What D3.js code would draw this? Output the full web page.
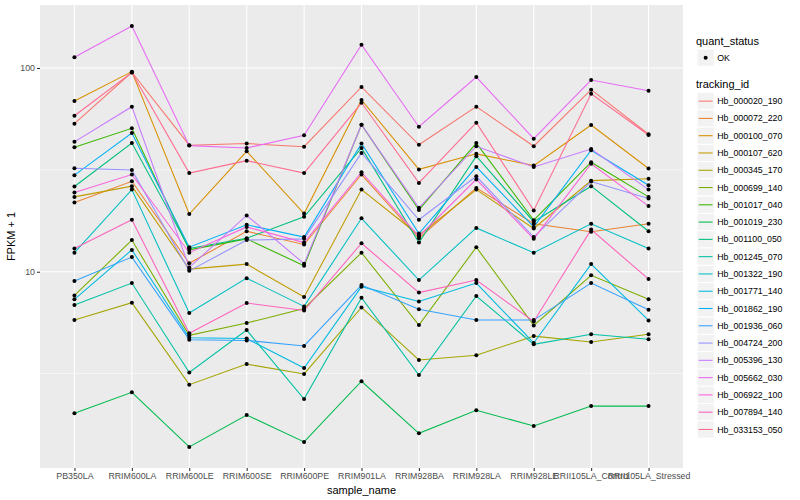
<!DOCTYPE html>
<html lang="en">
  <head>
    <meta charset="UTF-8" />
    <title>FPKM by sample</title>
    <script src="https://d3js.org/d3.v7.min.js"></script>
  </head>
  <style>
    html,
    body {
      margin: 0;
      padding: 0;
      background: #fff;
    }
    svg text {
      font-family: "Liberation Sans", Arial, Helvetica, sans-serif;
    }
  </style>
  <body>
    <script>
      // samples on the x axis
      var samples = [
        "PB350LA", "RRIM600LA", "RRIM600LE", "RRIM600SE", "RRIM600PE", "RRIM901LA",
        "RRIM928BA", "RRIM928LA", "RRIM928LE", "RRII105LA_Control", "RRII105LA_Stressed"
      ];

      // FPKM + 1, one array per tracking id
      var hb_000020_190 = [53.3, 95.3, 41.8, 42.6, 41.1, 80.7, 42.0, 64.6, 41.3, 78.3, 47.3];
      var hb_000072_220 = [21.9, 27.8, 11.0, 15.8, 13.6, 30.0, 14.6, 25.8, 17.2, 15.7, 17.2];
      var hb_000100_070 = [68.9, 96.0, 19.2, 39.0, 19.3, 69.7, 31.8, 37.9, 33.2, 52.5, 32.1];
      var hb_000107_620 = [23.3, 26.3, 10.3, 10.9, 7.51, 25.3, 15.1, 25.3, 16.3, 28.0, 28.6];
      var hb_000345_170 = [5.79, 7.05, 2.79, 3.52, 3.15, 6.68, 3.69, 3.89, 4.83, 4.52, 4.93];
      var hb_000699_140 = [7.65, 14.3, 4.87, 5.6, 6.6, 12.4, 5.47, 13.2, 5.45, 9.6, 7.32];
      var hb_001017_040 = [40.8, 50.6, 12.8, 14.5, 10.7, 52.7, 20.1, 42.8, 17.9, 34.5, 23.3];
      var hb_001019_230 = [2.02, 2.56, 1.38, 1.98, 1.46, 2.9, 1.61, 2.09, 1.75, 2.19, 2.19];
      var hb_001100_050 = [26.2, 42.8, 13.0, 14.6, 18.6, 40.5, 13.9, 36.9, 17.6, 26.3, 15.8];
      var hb_001245_070 = [6.86, 8.8, 3.2, 5.17, 2.37, 7.45, 3.11, 7.6, 4.4, 4.93, 4.66];
      var hb_001322_190 = [12.4, 25.3, 6.27, 9.3, 6.76, 18.3, 9.1, 16.4, 12.4, 17.2, 13.0];
      var hb_001771_140 = [7.32, 12.8, 4.74, 4.7, 3.37, 8.45, 7.15, 8.8, 4.47, 10.9, 5.77];
      var hb_001862_190 = [29.8, 48.0, 13.2, 17.0, 14.8, 42.6, 15.4, 32.7, 16.6, 39.5, 26.6];
      var hb_001936_060 = [9.0, 11.8, 4.64, 4.6, 4.32, 8.6, 6.55, 5.79, 5.79, 8.8, 6.5];
      var hb_004724_200 = [32.2, 31.6, 10.1, 14.3, 14.5, 38.3, 18.0, 29.4, 14.8, 27.7, 22.9];
      var hb_005396_130 = [43.4, 64.6, 10.5, 18.9, 10.95, 52.7, 20.6, 41.3, 32.7, 40.0, 25.3];
      var hb_005662_030 = [113, 160.7, 41.6, 40.5, 46.8, 130, 51.5, 90.3, 45.0, 87.3, 77.4];
      var hb_006922_100 = [24.5, 30.0, 12.4, 16.6, 13.9, 30.8, 14.9, 28.4, 14.5, 33.9, 21.0];
      var hb_007894_140 = [13.0, 18.0, 4.99, 7.02, 6.45, 13.8, 7.9, 9.1, 5.7, 16.1, 9.2];
      var hb_033153_050 = [58.3, 95.0, 30.5, 35.1, 30.5, 67.5, 27.3, 53.9, 20.0, 74.8, 46.9];

      var trackingIds = [
        "Hb_000020_190", "Hb_000072_220", "Hb_000100_070", "Hb_000107_620", "Hb_000345_170",
        "Hb_000699_140", "Hb_001017_040", "Hb_001019_230", "Hb_001100_050", "Hb_001245_070",
        "Hb_001322_190", "Hb_001771_140", "Hb_001862_190", "Hb_001936_060", "Hb_004724_200",
        "Hb_005396_130", "Hb_005662_030", "Hb_006922_100", "Hb_007894_140", "Hb_033153_050"
      ];
      var seriesValues = [
        hb_000020_190, hb_000072_220, hb_000100_070, hb_000107_620, hb_000345_170,
        hb_000699_140, hb_001017_040, hb_001019_230, hb_001100_050, hb_001245_070,
        hb_001322_190, hb_001771_140, hb_001862_190, hb_001936_060, hb_004724_200,
        hb_005396_130, hb_005662_030, hb_006922_100, hb_007894_140, hb_033153_050
      ];

      var yTicks = [10, 100];
      var yMinor = [Math.sqrt(10), Math.sqrt(1000)];

      // ggplot hue palette, 20 levels
      var palette = [
        "#F8766D", "#EA8331", "#D89000", "#C09B00", "#A3A500", "#7CAE00", "#39B600",
        "#00BB4E", "#00BF7D", "#00C1A3", "#00BFC4", "#00BAE0", "#00B0F6", "#35A2FF",
        "#9590FF", "#C77CFF", "#E76BF3", "#FA62DB", "#FF62BC", "#FF6C91"
      ];

      var series = trackingIds.map(function (id, i) {
        return {
          id: id,
          values: seriesValues[i].map(function (v, j) {
            return { sample: samples[j], value: v };
          })
        };
      });

      var W = 800, H = 500;
      var panel = { left: 40, right: 683, top: 5, bottom: 468 };

      var svg = d3.select("body").append("svg").attr("width", W).attr("height", H);

      var x = d3.scalePoint().domain(samples).range([panel.left, panel.right]).padding(0.6);

      // log scale with ggplot-like 5% expansion in log space
      var all = d3.merge(seriesValues);
      var lo = Math.log10(d3.min(all)), hi = Math.log10(d3.max(all));
      var pad = (hi - lo) * 0.05;
      var y = d3.scaleLog()
        .domain([Math.pow(10, lo - pad), Math.pow(10, hi + pad)])
        .range([panel.bottom, panel.top]);

      var color = d3.scaleOrdinal().domain(trackingIds).range(palette);

      // panel background
      svg.append("rect")
        .attr("x", panel.left).attr("y", panel.top)
        .attr("width", panel.right - panel.left)
        .attr("height", panel.bottom - panel.top)
        .attr("fill", "#EBEBEB");

      var grid = svg.append("g");
      grid.selectAll("line.minor").data(yMinor).enter().append("line")
        .attr("x1", panel.left).attr("x2", panel.right)
        .attr("y1", function (d) { return y(d); }).attr("y2", function (d) { return y(d); })
        .attr("stroke", "#fff").attr("stroke-width", 0.55);
      grid.selectAll("line.majory").data(yTicks).enter().append("line")
        .attr("x1", panel.left).attr("x2", panel.right)
        .attr("y1", function (d) { return y(d); }).attr("y2", function (d) { return y(d); })
        .attr("stroke", "#fff").attr("stroke-width", 1.1);
      grid.selectAll("line.majorx").data(samples).enter().append("line")
        .attr("y1", panel.top).attr("y2", panel.bottom)
        .attr("x1", function (d) { return x(d); }).attr("x2", function (d) { return x(d); })
        .attr("stroke", "#fff").attr("stroke-width", 1.1);

      // lines
      var line = d3.line()
        .x(function (d) { return x(d.sample); })
        .y(function (d) { return y(d.value); });

      svg.append("g").selectAll("path").data(series).enter().append("path")
        .attr("d", function (d) { return line(d.values); })
        .attr("fill", "none")
        .attr("stroke", function (d) { return color(d.id); })
        .attr("stroke-width", 1.07);

      // points
      svg.append("g").selectAll("circle")
        .data(d3.merge(series.map(function (s) { return s.values; })))
        .enter().append("circle")
        .attr("cx", function (d) { return x(d.sample); })
        .attr("cy", function (d) { return y(d.value); })
        .attr("r", 2)
        .attr("fill", "#000");

      // axes
      var yAxis = d3.axisLeft(y).tickValues(yTicks).tickFormat(d3.format("d")).tickSize(3).tickPadding(2);
      var gy = svg.append("g").attr("transform", "translate(" + panel.left + ",0)").call(yAxis);
      var xAxis = d3.axisBottom(x).tickSize(3).tickPadding(2);
      var gx = svg.append("g").attr("transform", "translate(0," + panel.bottom + ")").call(xAxis);

      [gy, gx].forEach(function (g) {
        g.select(".domain").remove();
        g.selectAll(".tick line").attr("stroke", "#333333").attr("stroke-width", 1.07);
        g.selectAll(".tick text")
          .attr("fill", "#4D4D4D")
          .style("font-size", "8.8px")
          .style("font-family", "'Liberation Sans', Arial, sans-serif");
      });

      svg.append("text")
        .attr("x", (panel.left + panel.right) / 2).attr("y", 494)
        .attr("text-anchor", "middle")
        .style("font-size", "11px")
        .text("sample_name");

      svg.append("text")
        .attr("transform", "translate(15," + (panel.top + panel.bottom) / 2 + ") rotate(-90)")
        .attr("text-anchor", "middle")
        .style("font-size", "11px")
        .text("FPKM + 1");

      // legends
      var lx = 697, keyW = 17.28;
      var legend = svg.append("g");

      legend.append("text").attr("x", lx - 1).attr("y", 45)
        .style("font-size", "11px").text("quant_status");
      legend.append("rect").attr("x", lx).attr("y", 49).attr("width", keyW).attr("height", keyW)
        .attr("fill", "#F2F2F2").attr("stroke", "#fff");
      legend.append("circle").attr("cx", lx + keyW / 2).attr("cy", 49 + keyW / 2).attr("r", 2).attr("fill", "#000");
      legend.append("text").attr("x", lx + keyW + 3).attr("y", 49 + keyW / 2)
        .attr("dy", "0.35em").style("font-size", "8.8px").text("OK");

      legend.append("text").attr("x", lx - 1).attr("y", 88)
        .style("font-size", "11px").text("tracking_id");

      var keys = legend.selectAll("g.key").data(trackingIds).enter().append("g")
        .attr("transform", function (d, i) { return "translate(" + lx + "," + (92.5 + i * keyW) + ")"; });
      keys.append("rect").attr("width", keyW).attr("height", keyW)
        .attr("fill", "#F2F2F2").attr("stroke", "#fff");
      keys.append("line")
        .attr("x1", 1.7).attr("x2", keyW - 1.7)
        .attr("y1", keyW / 2).attr("y2", keyW / 2)
        .attr("stroke", function (d) { return color(d); })
        .attr("stroke-width", 1.07);
      keys.append("text").attr("x", keyW + 3).attr("y", keyW / 2).attr("dy", "0.35em")
        .style("font-size", "8.8px").text(function (d) { return d; });
    </script>
  </body>
</html>
